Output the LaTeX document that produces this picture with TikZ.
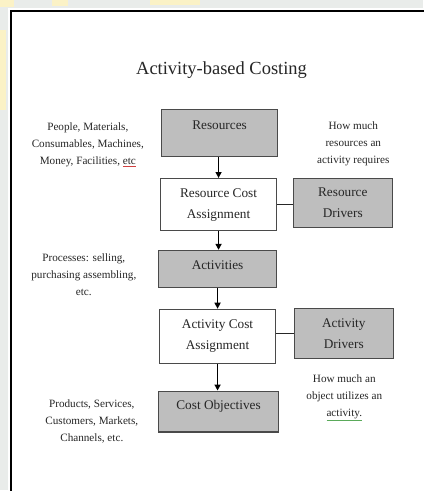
\documentclass[tikz,border=0pt]{standalone}
\usepackage{fontspec}
\setmainfont{Liberation Serif}
\usetikzlibrary{arrows.meta}
\definecolor{pagebg}{HTML}{E9ECEA}
\definecolor{wash}{HTML}{FBF2C6}
\definecolor{boxgrey}{HTML}{BEBEBE}
\definecolor{boxline}{HTML}{4A4A4A}
\definecolor{ink}{HTML}{262626}
\definecolor{spellred}{HTML}{D04040}
\definecolor{spellgreen}{HTML}{5AAA5A}
\newcommand{\spellmark}[2]{{\color{#1}\underline{\textcolor{ink}{#2}}}}
\begin{document}
\begin{tikzpicture}[x=1pt,y=1pt,
  every node/.style={text=ink},
  boxbase/.style={draw=boxline, line width=1.3pt, inner sep=0pt, align=center,
                  font=\fontsize{13.3}{21}\selectfont},
  greybox/.style={boxbase, fill=boxgrey},
  whitebox/.style={boxbase, fill=white},
  note/.style={align=center, font=\fontsize{11.2}{17}\selectfont},
  flow/.style={draw=black, line width=1.4pt, -{Triangle[length=6pt,width=6pt]}},
  link/.style={draw=black!85, line width=1.4pt}
]
% page background and frame
\fill[pagebg] (0,0) rectangle (424,-491);
\fill[wash] (0,0) rectangle (14,-7);
\fill[wash] (52,0) rectangle (68,-6);
\fill[wash] (150,0) rectangle (200,-5);
\fill[wash] (0,-30) rectangle (6,-110);
\fill[white] (8,-8) rectangle (424,-491);
\draw[line width=2pt, line cap=rect] (424,-11) -- (11.5,-11) -- (11.5,-491);
\useasboundingbox (0,0) rectangle (424,-491);

% title
\node[font=\fontsize{18.5}{22}\selectfont] (title) at (222,-70) {Activity-based Costing};

% flow boxes
\node[greybox, minimum width=116pt, minimum height=47pt,
      label={[name=resL, yshift=8.5pt, font=\fontsize{13.3}{21}\selectfont, text=ink]center:Resources}]
      (res) at (220,-133.5) {};
\node[whitebox, minimum width=116pt, minimum height=52pt] (rca) at (219,-205)
      {Resource Cost\\Assignment};
\node[greybox, minimum width=99pt, minimum height=49pt] (rd) at (343.5,-203.5)
      {Resource\\Drivers};
\node[greybox, minimum width=118pt, minimum height=37pt,
      label={[name=actL, yshift=3.5pt, font=\fontsize{13.3}{21}\selectfont, text=ink]center:Activities}]
      (act) at (218,-269.5) {};
\node[whitebox, minimum width=116pt, minimum height=54pt] (aca) at (218,-337)
      {Activity Cost\\Assignment};
\node[greybox, minimum width=99pt, minimum height=50pt] (ad) at (344.5,-334)
      {Activity\\Drivers};
\node[greybox, minimum width=120pt, minimum height=41pt,
      label={[name=coL, yshift=5.5pt, font=\fontsize{13.3}{21}\selectfont, text=ink]center:Cost Objectives}]
      (co) at (219,-412.5) {};

% side notes
\node[note] (inputs) at (88,-145)
  {People, Materials,\\Consumables, Machines,\\Money, Facilities, \spellmark{spellred}{etc}};
\node[note] (rdnote) at (354,-144)
  {How much\\resources an\\activity requires};
\node[note] (procs) at (84,-275)
  {Processes: selling,\\purchasing assembling,\\etc.};
\node[note] (outputs) at (92,-422)
  {Products, Services,\\Customers, Markets,\\Channels, etc.};
\node[note] (adnote) at (345,-398.5)
  {How much an\\object utilizes an\\\spellmark{spellgreen}{activity.}};

% connectors
\draw[flow] (rca.north |- res.south) -- (rca.north);
\draw[flow] (rca.south) -- (rca.south |- act.north);
\draw[flow] (aca.north |- act.south) -- (aca.north);
\draw[flow] (aca.south) -- (aca.south |- co.north);
\draw[link] (rca.east) -- (rca.east -| rd.west);
\draw[link] (ad.west -| aca.east) -- (ad.west);
\end{tikzpicture}
\end{document}
